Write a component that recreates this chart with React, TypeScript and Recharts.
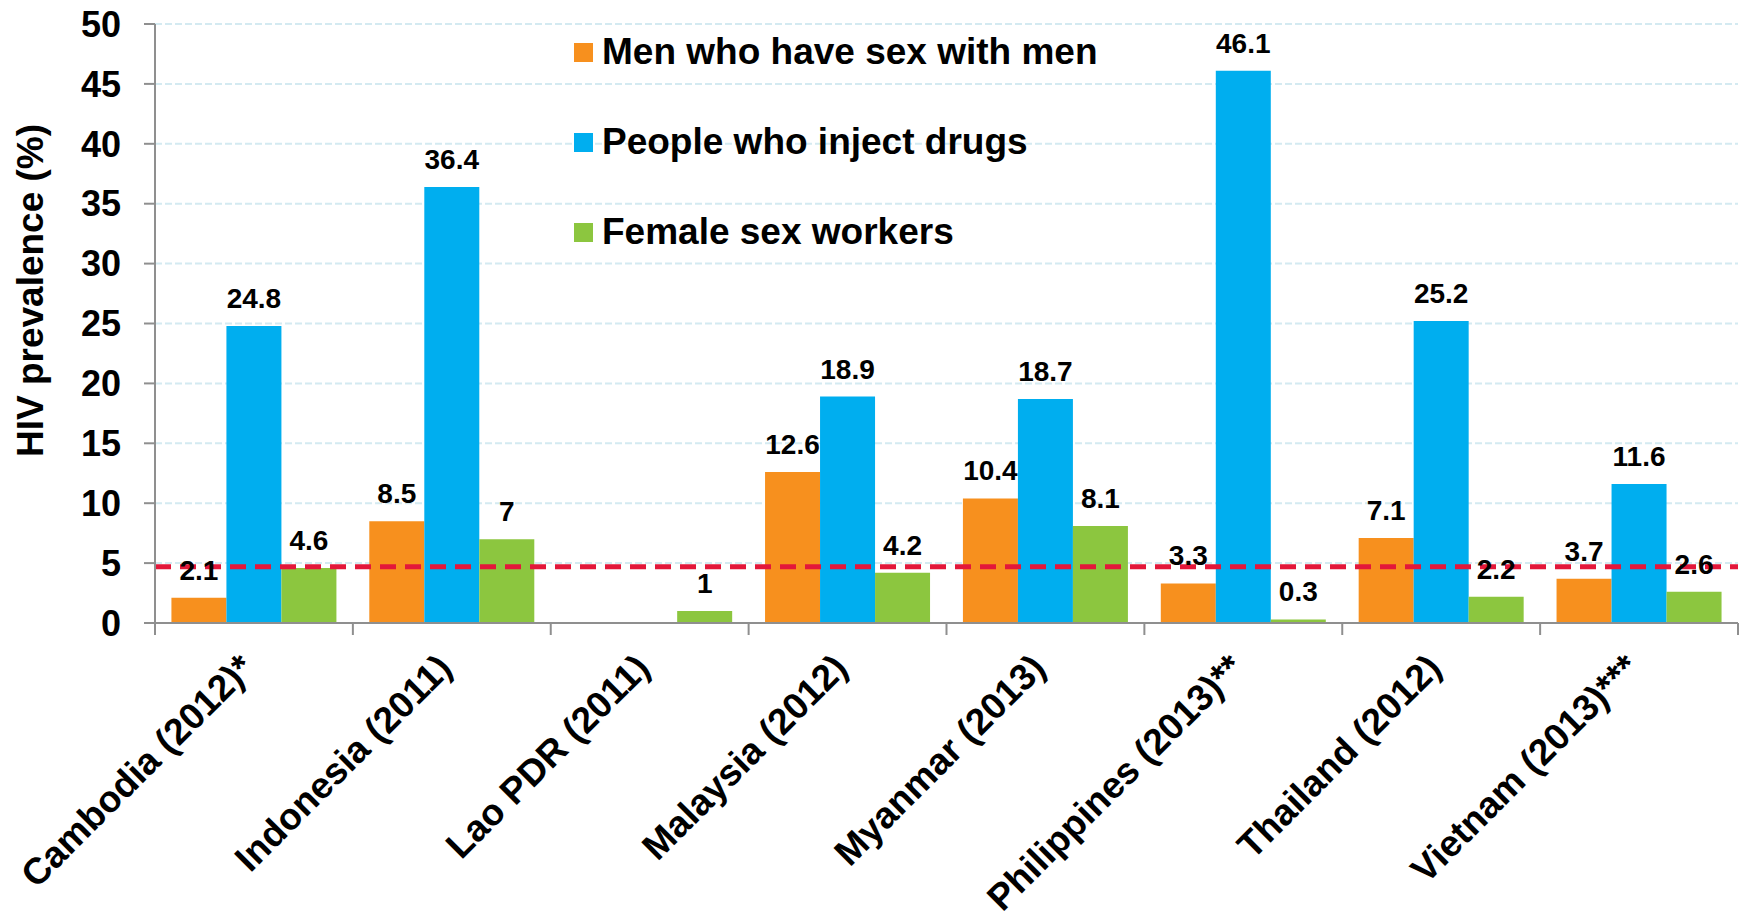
import React from 'react';
import { BarChart, Bar, XAxis, YAxis, CartesianGrid, ReferenceLine, LabelList, Legend, Label } from 'recharts';

const categories = [
  'Cambodia (2012)*',
  'Indonesia (2011)',
  'Lao PDR (2011)',
  'Malaysia (2012)',
  'Myanmar (2013)',
  'Philippines (2013)**',
  'Thailand (2012)',
  'Vietnam (2013)***',
];
const msmValues: (number | null)[] = [2.1, 8.5, null, 12.6, 10.4, 3.3, 7.1, 3.7];
const pwidValues: (number | null)[] = [24.8, 36.4, null, 18.9, 18.7, 46.1, 25.2, 11.6];
const fswValues: (number | null)[] = [4.6, 7, 1, 4.2, 8.1, 0.3, 2.2, 2.6];
const yTicks = [0, 5, 10, 15, 20, 25, 30, 35, 40, 45, 50];
const thresholdValue = 4.7;
const seriesNames = ['Men who have sex with men', 'People who inject drugs', 'Female sex workers'];
const yAxisTitle = 'HIV prevalence (%)';

const data = categories.map((c, i) => ({
  category: c,
  msm: msmValues[i],
  pwid: pwidValues[i],
  fsw: fswValues[i],
}));

const W = 1744;
const H = 912;
const MARGIN = { top: 24, right: 6, left: 0, bottom: 0 };
const Y_W = 155;
const X_H = 289;
const BAND = (W - MARGIN.left - MARGIN.right - Y_W) / categories.length;
const AXIS = '#8f8f8f';
const FONT = '"Liberation Sans", Arial, Helvetica, sans-serif';

const LX = 2;
const LY = 47;

const XTick = (props: any) => {
  const { x, y, payload, index } = props;
  const half = BAND / 2;
  const tx = x + LX;
  const ty = y + LY;
  return (
    <g>
      <line x1={x - half} x2={x - half} y1={y} y2={y + 12} stroke={AXIS} strokeWidth={2} />
      {index === categories.length - 1 && (
        <line x1={x + half} x2={x + half} y1={y} y2={y + 12} stroke={AXIS} strokeWidth={2} />
      )}
      <text
        x={tx}
        y={ty}
        transform={`rotate(-45 ${tx} ${ty})`}
        textAnchor="end"
        fontSize={37}
        fontWeight="bold"
        fontFamily={FONT}
        fill="#000"
      >
        {payload.value}
      </text>
    </g>
  );
};

const renderLegend = (props: any) => {
  const payload = props.payload || [];
  const ordered = seriesNames
    .map((n) => payload.find((p: any) => p.value === n))
    .filter(Boolean);
  return (
    <div style={{ fontFamily: FONT }}>
      {ordered.map((p: any) => (
        <div key={p.value} style={{ height: 90, display: 'flex', alignItems: 'center', whiteSpace: 'nowrap' }}>
          <span style={{ display: 'inline-block', width: 19, height: 19, background: p.color, marginRight: 9 }} />
          <span style={{ fontSize: 37, fontWeight: 700, color: '#000' }}>{p.value}</span>
        </div>
      ))}
    </div>
  );
};

const labelProps = {
  position: 'top' as const,
  offset: 18,
  fill: '#000',
  fontSize: 28,
  fontWeight: 'bold',
  fontFamily: FONT,
};

export default function App() {
  return (
    <div style={{ position: 'fixed', left: 0, top: 0, width: W, height: H, background: '#fff' }}>
      <BarChart width={W} height={H} data={data} margin={MARGIN} barCategoryGap="8.3%" barGap={0}>
        <CartesianGrid vertical={false} stroke="#d4eaf1" strokeWidth={2} strokeDasharray="7 3" />
        <XAxis
          dataKey="category"
          height={X_H}
          interval={0}
          tickLine={false}
          tickSize={0}
          tickMargin={0}
          axisLine={{ stroke: AXIS, strokeWidth: 2 }}
          tick={<XTick />}
        />
        <YAxis
          width={Y_W}
          domain={[0, 50]}
          ticks={yTicks}
          interval={0}
          tickSize={11}
          tickMargin={23}
          axisLine={{ stroke: AXIS, strokeWidth: 2 }}
          tickLine={{ stroke: AXIS, strokeWidth: 2 }}
          tick={{ fill: '#000', fontSize: 36, fontWeight: 'bold', fontFamily: FONT }}
        >
          <Label
            content={(p: any) => {
              const vb = p.viewBox || { x: 0, y: 0, width: 0, height: 0 };
              const cx = vb.x + 43;
              const cy = vb.y + vb.height / 2 - 33;
              return (
                <text
                  x={cx}
                  y={cy}
                  transform={`rotate(-90 ${cx} ${cy})`}
                  textAnchor="middle"
                  fontSize={37}
                  fontWeight="bold"
                  fontFamily={FONT}
                  fill="#000"
                >
                  {yAxisTitle}
                </text>
              );
            }}
          />
        </YAxis>
        <Legend
          layout="vertical"
          align="center"
          verticalAlign="middle"
          content={renderLegend}
          wrapperStyle={{ left: 574, top: 7, width: 740, height: 270 }}
        />
        <Bar dataKey="msm" name={seriesNames[0]} fill="#F7901E" isAnimationActive={false}>
          <LabelList dataKey="msm" {...labelProps} />
        </Bar>
        <Bar dataKey="pwid" name={seriesNames[1]} fill="#00AEEF" isAnimationActive={false}>
          <LabelList dataKey="pwid" {...labelProps} />
        </Bar>
        <Bar dataKey="fsw" name={seriesNames[2]} fill="#8CC63F" isAnimationActive={false}>
          <LabelList dataKey="fsw" {...labelProps} />
        </Bar>
        <ReferenceLine y={thresholdValue} stroke="#E3173A" strokeWidth={5} strokeDasharray="16 9" />
      </BarChart>
    </div>
  );
}
